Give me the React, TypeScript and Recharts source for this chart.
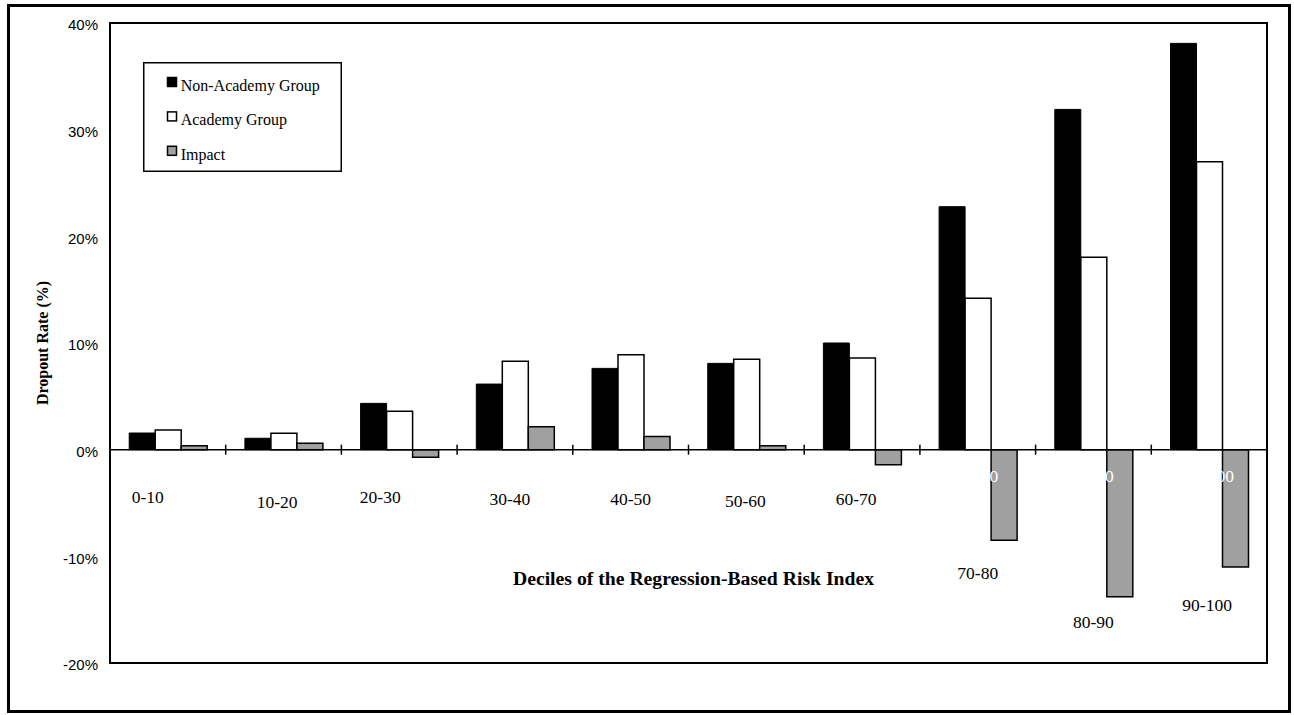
import React from 'react'
import {
  BarChart, Bar, XAxis, YAxis, Legend, ReferenceLine, ReferenceArea
} from 'recharts'

// values, in percent
const deciles = ['0-10', '10-20', '20-30', '30-40', '40-50', '50-60', '60-70', '70-80', '80-90', '90-100']
const nonAcademy = [1.56, 1.07, 4.34, 6.15, 7.62, 8.09, 10.0, 22.78, 31.9, 38.09]
const academy = [1.85, 1.54, 3.6, 8.28, 8.9, 8.47, 8.6, 14.19, 18.03, 27.0]
const impact = [0.37, 0.6, -0.72, 2.15, 1.24, 0.36, -1.42, -8.5, -13.8, -11.0]
const yTicks = [-20, -10, 0, 10, 20, 30, 40]
const seriesNames = ['Non-Academy Group', 'Academy Group', 'Impact']

const data = deciles.map((d, i) => ({
  decile: d,
  nonAcademy: nonAcademy[i],
  academy: academy[i],
  impact: impact[i],
}))

const W = 1294
const H = 715
const PLOT_TOP = 23
const PLOT_BOTTOM = 663
const PLOT_H = PLOT_BOTTOM - PLOT_TOP
const Y_MIN = -20
const Y_MAX = 40

const SERIF = '"Liberation Serif", "Times New Roman", serif'
const SANS = '"Liberation Sans", Arial, sans-serif'

// hand-placed category labels: [dx from band centre, dy below the zero line]
const labelShift: [number, number][] = [
  [-20, 47], [-6.5, 52], [-19, 47], [-5, 49], [0, 49],
  [-1, 51], [-6, 49], [0, 123], [0, 172], [-2, 155],
]

function CategoryTick(props: any) {
  const { x, y, payload, index } = props
  const zeroY = y - PLOT_H * (0 - Y_MIN) / (Y_MAX - Y_MIN)
  const [dx, dy] = labelShift[index] || [0, 49]
  return (
    <g>
      {/* the chart's own labels are white; only visible over the grey bars */}
      <text x={x} y={zeroY + 26.5} textAnchor="middle" dominantBaseline="central"
        fontFamily={SERIF} fontSize={17.5} fill="#fff">
        {payload.value}
      </text>
      <text x={x + dx} y={zeroY + dy} textAnchor="middle" dominantBaseline="central"
        fontFamily={SERIF} fontSize={17.5} fill="#000">
        {payload.value}
      </text>
    </g>
  )
}

function ZeroAxis(props: any) {
  const { x1, x2, y1 } = props
  const step = (x2 - x1) / deciles.length
  return (
    <g>
      <line x1={x1} x2={x2} y1={y1} y2={y1} stroke="#000" strokeWidth={1.5} />
      {deciles.slice(1).map((d, i) => (
        <line key={d} x1={x1 + step * (i + 1)} x2={x1 + step * (i + 1)}
          y1={y1 - 5} y2={y1 + 5} stroke="#000" strokeWidth={1.5} />
      ))}
    </g>
  )
}

function LegendBox({ payload }: any) {
  const items = [...(payload || [])].sort(
    (a: any, b: any) => seriesNames.indexOf(a.value) - seriesNames.indexOf(b.value)
  )
  return (
    <svg width={199} height={110} style={{ display: 'block' }}>
      <rect x={0.75} y={0.75} width={197.5} height={108.5} fill="#fff" stroke="#000" strokeWidth={1.5} />
      {items.map((e: any, i: number) => (
        <g key={e.value}>
          <rect x={24.5} y={15.5 + i * 34.4} width={9} height={9}
            fill={e.color} stroke="#000" strokeWidth={1.5} />
          <text x={37.7} y={29 + i * 34.4} fontFamily={SERIF} fontSize={16} fill="#000">
            {e.value}
          </text>
        </g>
      ))}
    </svg>
  )
}

export default function App() {
  return (
    <div style={{
      position: 'absolute', left: 0, top: 0, width: W, height: H,
      background: '#fff', overflow: 'hidden',
    }}>
      <BarChart
        width={W}
        height={H}
        data={data}
        margin={{ top: PLOT_TOP, right: W - 1267, left: 0, bottom: H - PLOT_BOTTOM - 30 }}
        barCategoryGap="16.6%"
        barGap={0}
      >
        <ReferenceArea y1={Y_MIN} y2={Y_MAX} fill="none" stroke="#000" strokeWidth={2} />
        <YAxis
          width={110}
          domain={[Y_MIN, Y_MAX]}
          ticks={yTicks}
          tickFormatter={(v) => `${v}%`}
          axisLine={false}
          tickLine={false}
          tickSize={6}
          tickMargin={6}
          tick={{ fontFamily: SANS, fontSize: 15, fill: '#000', dy: 2 }}
          label={({ viewBox }: any) => (
            <text
              x={42}
              y={viewBox.y + viewBox.height / 2}
              transform={`rotate(-90, 42, ${viewBox.y + viewBox.height / 2})`}
              textAnchor="middle"
              dominantBaseline="central"
              fontFamily={SERIF}
              fontSize={16}
              fontWeight="bold"
              fill="#000"
            >
              Dropout Rate (%)
            </text>
          )}
        />
        <Bar dataKey="nonAcademy" name={seriesNames[0]} fill="#000" stroke="#000" strokeWidth={1}
          isAnimationActive={false} />
        <Bar dataKey="academy" name={seriesNames[1]} fill="#fff" stroke="#000" strokeWidth={1.5}
          isAnimationActive={false} />
        <Bar dataKey="impact" name={seriesNames[2]} fill="#a0a0a0" stroke="#000" strokeWidth={1.5}
          isAnimationActive={false} />
        <ReferenceLine y={0} shape={ZeroAxis} />
        <XAxis
          dataKey="decile"
          height={30}
          axisLine={false}
          tickLine={false}
          tickSize={0}
          tickMargin={0}
          interval={0}
          tick={CategoryTick}
          label={({ viewBox }: any) => (
            <text
              x={viewBox.x + viewBox.width / 2 + 5}
              y={viewBox.y - 85}
              textAnchor="middle"
              dominantBaseline="central"
              fontFamily={SERIF}
              fontSize={19.7}
              fontWeight="bold"
              fill="#000"
            >
              Deciles of the Regression-Based Risk Index
            </text>
          )}
        />
        <Legend
          layout="vertical"
          align="center"
          verticalAlign="middle"
          itemSorter={null as any}
          content={LegendBox}
          wrapperStyle={{ left: 143, top: 62, width: 199, height: 110 }}
        />
      </BarChart>
      <div style={{
        position: 'absolute', left: 7, top: 4, width: 1284, height: 709,
        border: '3px solid #000', boxSizing: 'border-box', pointerEvents: 'none',
      }} />
    </div>
  )
}
